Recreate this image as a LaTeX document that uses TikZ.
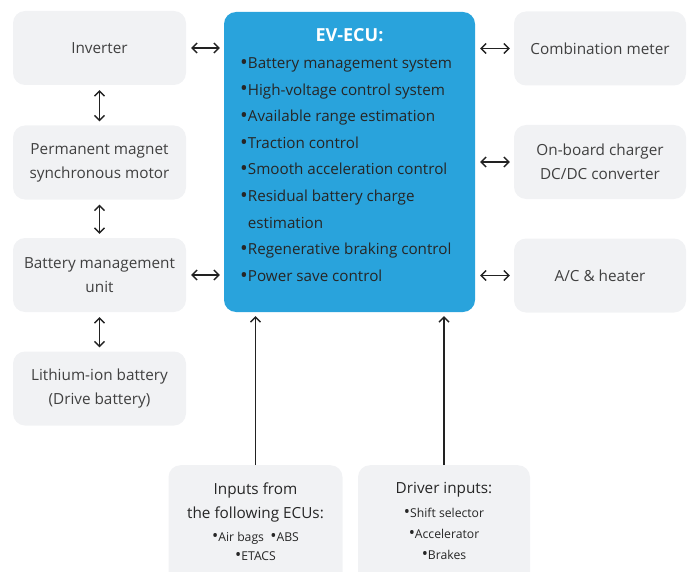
\documentclass[tikz,border=0pt]{standalone}
\usepackage{fontspec}
\setmainfont{Open Sans}
\usepackage{tikz}
\usetikzlibrary{arrows.meta}

\definecolor{ecublue}{HTML}{29A3DC}
\definecolor{boxgray}{HTML}{F1F2F4}
\definecolor{txtgray}{HTML}{404040}
\definecolor{linkgray}{HTML}{222222}
\newcommand{\bul}{\raisebox{-0.05em}{\scalebox{1.35}{•}}}

\begin{document}
\begin{tikzpicture}[x=1pt,y=-1pt,
    unit/.style={fill=boxgray, rounded corners=12pt, minimum width=173pt,
      minimum height=74pt, align=center, text=txtgray,
      font=\fontsize{15.3}{24}\selectfont},
    link/.style={linkgray, line width=1.4pt,
      arrows={Straight Barb[length=5pt,width=10pt]-Straight Barb[length=5pt,width=10pt]},
      shorten <=5pt, shorten >=4pt},
    feed/.style={linkgray, line width=1.4pt,
      -{Straight Barb[length=5pt,width=10pt]}, shorten >=4pt}]
  \useasboundingbox (0,0) rectangle (687,572);
  % left column
  \node[unit] (inv) at (99.5,48) {Inverter};
  \node[unit] (pmsm) at (99.5,162.5) {Permanent magnet\\synchronous motor};
  \node[unit] (bmu) at (99.5,275) {Battery management\\unit};
  \node[unit] (batt) at (99.5,388.5) {Lithium-ion battery\\(Drive battery)};
  % right column
  \node[unit, minimum width=172pt] (meter) at (600,48.5) {Combination meter};
  \node[unit, minimum width=172pt] (obc) at (600,162) {On-board charger\\DC/DC converter};
  \node[unit, minimum width=172pt] (ac) at (600,275.5) {A/C \& heater};
  % the ECU
  \node[fill=ecublue, rounded corners=12pt, minimum width=251pt,
    minimum height=300pt] (ecu) at (349.5,162) {};
  \node[text=white, font=\fontsize{18}{20}\selectfont\bfseries] (ecutitle)
    at (349.5,35) {EV-ECU:};
  \node[anchor=north west, align=left, inner sep=0pt, text=black!85,
    font=\fontsize{15.2}{26.6}\selectfont] (ecujobs) at (240,57.5)
    {\bul Battery management system\\
     \bul High-voltage control system\\
     \bul Available range estimation\\
     \bul Traction control\\
     \bul Smooth acceleration control\\
     \bul Residual battery charge\\
     \phantom{\bul}estimation\\
     \bul Regenerative braking control\\
     \bul Power save control};
  % inputs below
  \node[unit, minimum width=174pt, minimum height=120pt, anchor=north] (ecus)
    at (255.5,465) {};
  \node[unit, minimum width=172pt, minimum height=120pt, anchor=north] (drv)
    at (444,465) {};
  \node[align=center, text=black!85, font=\fontsize{15.3}{24}\selectfont] (ecustext)
    at (255.5,502) {Inputs from\\the following ECUs:};
  \node[align=center, text=black!85, font=\fontsize{12.2}{19}\selectfont] (ecuslist)
    at (255.5,546.5) {\bul Air bags\ \ \bul ABS\\\bul ETACS};
  \node[text=black!85, font=\fontsize{15.3}{24}\selectfont] (drvtext)
    at (444,490) {Driver inputs:};
  \node[align=center, text=black!85, font=\fontsize{12.2}{21}\selectfont] (drvlist)
    at (444,534) {\bul Shift selector\\\bul Accelerator\\\bul Brakes};
  % connections
  \draw[link] (inv.east) -- (inv.east -| ecu.west);
  \draw[link] (bmu.east) -- (bmu.east -| ecu.west);
  \draw[link] (ecu.east |- meter.west) -- (meter.west);
  \draw[link] (ecu.east |- obc.west) -- (obc.west);
  \draw[link] (ecu.east |- ac.west) -- (ac.west);
  \draw[link] (inv) -- (pmsm);
  \draw[link] (pmsm) -- (bmu);
  \draw[link] (bmu) -- (batt);
  \draw[feed] (ecus.north) -- (ecus.north |- ecu.south);
  \draw[feed] (drv.north) -- (drv.north |- ecu.south);
\end{tikzpicture}
\end{document}
